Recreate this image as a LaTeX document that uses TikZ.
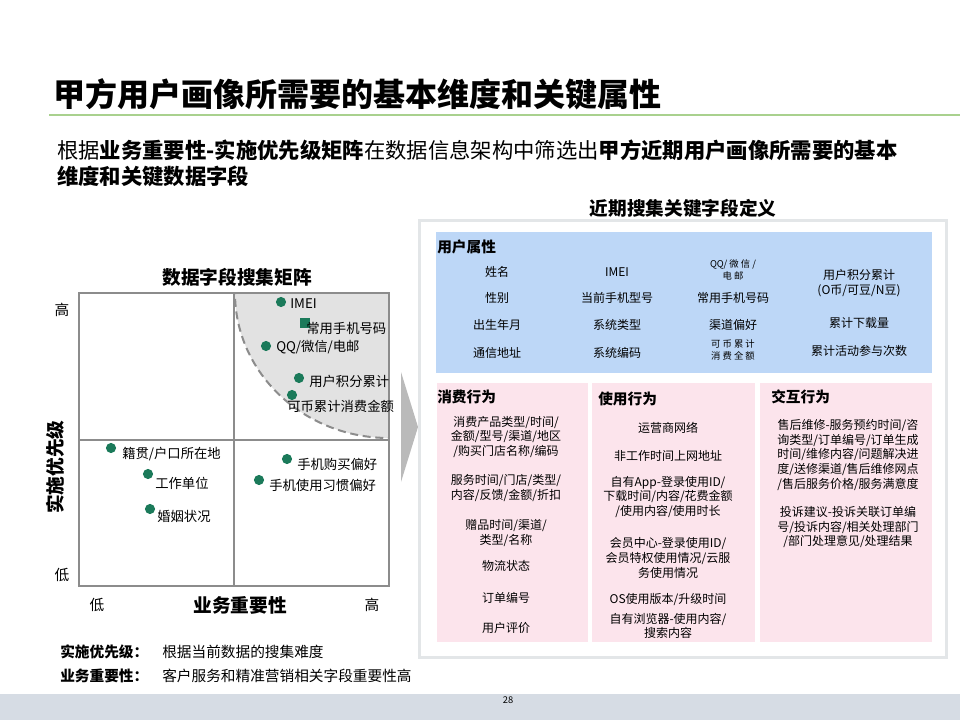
\documentclass[tikz,border=0pt]{standalone}
\usepackage{fontspec}
\setmainfont{Noto Sans CJK SC}
\definecolor{dotgreen}{HTML}{1B7A5A}
\definecolor{bluefill}{HTML}{BDD7F7}
\definecolor{pinkfill}{HTML}{FCE4EC}
\definecolor{regiongray}{HTML}{E2E2E2}
\definecolor{framegray}{HTML}{E3E6E8}
\definecolor{footerblue}{HTML}{D6DCE4}
\definecolor{linegreen}{HTML}{A9D18E}
\definecolor{axisgray}{HTML}{8C8C8C}
\begin{document}
\begin{tikzpicture}[x=0.75pt, y=-0.75pt,
  every node/.style={inner sep=0pt},
  dot/.style={circle, fill=dotgreen, minimum size=7.6pt},
  ptlabel/.style={anchor=west, font=\fontsize{10}{12}\selectfont},
  axislab/.style={font=\fontsize{11}{13}\selectfont},
  head/.style={anchor=west, font=\fontsize{11}{13}\selectfont\bfseries},
  cell/.style={align=center, font=\fontsize{9}{11}\selectfont},
  tinycell/.style={align=center, font=\fontsize{7}{9.5}\selectfont}]
\useasboundingbox (0,0) rectangle (960,720);
% title and subtitle
\node[anchor=west, font=\fontsize{24}{28}\selectfont\bfseries] (title) at (53,94) {甲方用户画像所需要的基本维度和关键属性};
\draw[linegreen, line width=1.2pt] (49,115) -- (960,115);
\node[anchor=west, align=left, font=\fontsize{16}{19.5}\selectfont] (subtitle) at (57,163)
  {根据\textbf{业务重要性-实施优先级矩阵}在数据信息架构中筛选出\textbf{甲方近期用户画像所需要的基本}\\\textbf{维度和关键数据字段}};
% matrix
\node[font=\fontsize{14}{16}\selectfont\bfseries] (mtitle) at (237,277) {数据字段搜集矩阵};
\begin{scope}
\clip (79,293) rectangle (389,586);
\fill[regiongray] (389,293) ellipse [x radius=154, y radius=145];
\draw[axisgray, line width=1.5pt, dash pattern=on 6pt off 3.5pt] (389,293) ellipse [x radius=154, y radius=145];
\end{scope}
\draw[axisgray, line width=1pt] (79,293) rectangle (389,586);
\draw[axisgray, line width=1pt] (234,293) -- (234,586);
\draw[axisgray, line width=1pt] (79,440) -- (389,440);
\node[axislab] (yhigh) at (62,310) {高};
\node[axislab] (ylow) at (62,575) {低};
\node[axislab] (xlow) at (97,605) {低};
\node[axislab] (xhigh) at (372,605) {高};
\node[font=\fontsize{14}{16}\selectfont\bfseries] (xname) at (240,605) {业务重要性};
\node[rotate=90, font=\fontsize{14}{16}\selectfont\bfseries] (yname) at (55,467) {实施优先级};
% points
\node[dot] (imei) at (281,302) {};
\node[ptlabel] (imei-lab) at (290,304) {IMEI};
\fill[dotgreen] (300,318) rectangle (310,328);
\node[ptlabel] (phone-lab) at (306,328) {常用手机号码};
\node[dot] (qq) at (266,346) {};
\node[ptlabel] (qq-lab) at (276,347) {QQ/微信/电邮};
\node[dot] (points) at (299,378) {};
\node[ptlabel] (points-lab) at (309,381) {用户积分累计};
\node[dot] (spend) at (292,395) {};
\node[ptlabel] (spend-lab) at (287,406) {可币累计消费金额};
\node[dot] (origin) at (111,448) {};
\node[ptlabel] (origin-lab) at (122,454) {籍贯/户口所在地};
\node[dot] (work) at (148,474) {};
\node[ptlabel] (work-lab) at (155,483) {工作单位};
\node[dot] (marry) at (150,509) {};
\node[ptlabel] (marry-lab) at (157,516) {婚姻状况};
\node[dot] (buy) at (287,459) {};
\node[ptlabel] (buy-lab) at (297,464) {手机购买偏好};
\node[dot] (habit) at (259,480) {};
\node[ptlabel] (habit-lab) at (269,485) {手机使用习惯偏好};
% chevron
\fill[black!27] (401,372) -- (418,427) -- (401,482) -- cycle;
% right panel
\node[font=\fontsize{14}{16}\selectfont\bfseries] (rtitle) at (683,208) {近期搜集关键字段定义};
\draw[framegray, line width=2.25pt] (419,221) rectangle (946,657);
\fill[bluefill] (436,232) rectangle (932,373);
\fill[pinkfill] (437,383) rectangle (588,642);
\fill[pinkfill] (592,383) rectangle (755,642);
\fill[pinkfill] (760,383) rectangle (932,642);
\node[head] (userhead) at (437,247) {用户属性};
\node[cell] (name) at (497,272) {姓名};
\node[cell] (gender) at (497,298) {性别};
\node[cell] (birth) at (497,325) {出生年月};
\node[cell] (addr) at (497,353) {通信地址};
\node[cell] (imeicell) at (617,272) {IMEI};
\node[cell] (model) at (617,298) {当前手机型号};
\node[cell] (ostype) at (617,325) {系统类型};
\node[cell] (oscode) at (617,353) {系统编码};
\node[tinycell] (qqcell) at (733,270) {QQ/ 微 信 /\\电 邮};
\node[cell] (phonecell) at (733,298) {常用手机号码};
\node[cell] (channel) at (733,325) {渠道偏好};
\node[tinycell] (spendcell) at (733,350) {可 币 累 计\\消 费 全 额};
\node[cell] (pointscell) at (859,283) {用户积分累计\\(O币/可豆/N豆)};
\node[cell] (download) at (859,323) {累计下载量};
\node[cell] (activity) at (859,351) {累计活动参与次数};
% behaviour boxes
\node[head] (buyhead) at (437,397) {消费行为};
\node[cell] (c1a) at (506,437) {消费产品类型/时间/\\金额/型号/渠道/地区\\/购买门店名称/编码};
\node[cell] (c1b) at (506,488) {服务时间/门店/类型/\\内容/反馈/金额/折扣};
\node[cell] (c1c) at (506,533) {赠品时间/渠道/\\类型/名称};
\node[cell] (c1d) at (506,566) {物流状态};
\node[cell] (c1e) at (506,598) {订单编号};
\node[cell] (c1f) at (506,628) {用户评价};
\node[head] (usehead) at (598,399) {使用行为};
\node[cell] (c2a) at (668,428) {运营商网络};
\node[cell] (c2b) at (668,456) {非工作时间上网地址};
\node[cell] (c2c) at (668,497) {自有App-登录使用ID/\\下载时间/内容/花费金额\\/使用内容/使用时长};
\node[cell] (c2d) at (668,558) {会员中心-登录使用ID/\\会员特权使用情况/云服\\务使用情况};
\node[cell] (c2e) at (668,600) {OS使用版本/升级时间};
\node[cell] (c2f) at (668,626) {自有浏览器-使用内容/\\搜索内容};
\node[head] (talkhead) at (771,397) {交互行为};
\node[cell] (c3a) at (848,455) {售后维修-服务预约时间/咨\\询类型/订单编号/订单生成\\时间/维修内容/问题解决进\\度/送修渠道/售后维修网点\\/售后服务价格/服务满意度};
\node[cell] (c3b) at (848,527) {投诉建议-投诉关联订单编\\号/投诉内容/相关处理部门\\/部门处理意见/处理结果};
% legend
\node[anchor=west, font=\fontsize{11}{13}\selectfont\bfseries] (leg1) at (60,652) {实施优先级：};
\node[anchor=west, font=\fontsize{11}{13}\selectfont] (leg1-txt) at (162,652) {根据当前数据的搜集难度};
\node[anchor=west, font=\fontsize{11}{13}\selectfont\bfseries] (leg2) at (60,676) {业务重要性：};
\node[anchor=west, font=\fontsize{11}{13}\selectfont] (leg2-txt) at (162,676) {客户服务和精准营销相关字段重要性高};
% footer
\fill[footerblue] (0,694) rectangle (960,720);
\node[font=\fontsize{7}{8}\selectfont] (pagenum) at (508,700) {28};
\end{tikzpicture}
\end{document}
